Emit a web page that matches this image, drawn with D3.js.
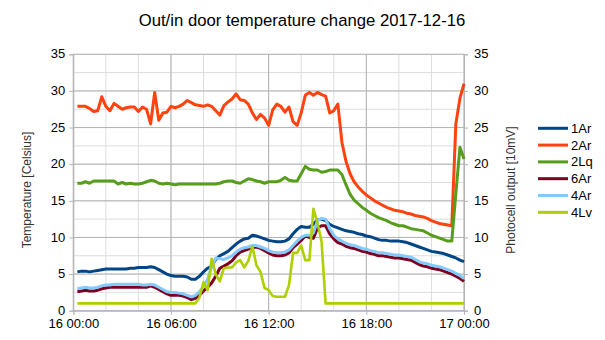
<!DOCTYPE html>
<html>
<head>
<meta charset="utf-8">
<script src="https://cdn.jsdelivr.net/npm/d3@7"></script>
<style>
  html, body { margin: 0; padding: 0; background: #fff; }
  svg { display: block; font-family: "Liberation Sans", Arial, sans-serif; }
</style>
</head>
<body>
<svg id="chart" width="605" height="340"></svg>
<script>
// Samples every 15 minutes, first one at 00:15 on 2017-12-16
const sampleStart = "2017-12-16T00:15:00";
const sampleStepMinutes = 15;

const seriesNames = ["1Ar", "2Ar", "2Lq", "6Ar", "4Ar", "4Lv"];
const seriesColors = ["#004586", "#ff420e", "#579d1c", "#7e0021", "#83caff", "#aecf00"];

const s1Ar = [
  5.3, 5.4, 5.4, 5.3, 5.4, 5.5, 5.6, 5.7, 5.7, 5.7, 5.7, 5.7, 5.7, 5.8, 5.8, 5.9,
  5.9, 5.9, 6.0, 5.9, 5.6, 5.3, 5.0, 4.8, 4.7, 4.7, 4.7, 4.6, 4.3, 4.3, 4.7, 5.3,
  5.8, 6.1, 7.0, 7.5, 7.8, 8.1, 8.6, 9.1, 9.5, 9.8, 9.9, 10.3, 10.2, 10.0, 9.8, 9.6,
  9.5, 9.4, 9.4, 9.5, 9.8, 10.5, 11.1, 11.5, 11.4, 11.4, 11.8, 12.4, 12.5, 12.3, 11.8, 11.5,
  11.3, 11.1, 10.9, 10.8, 10.7, 10.5, 10.4, 10.2, 10.1, 9.9, 9.7, 9.6, 9.6, 9.5, 9.5, 9.5,
  9.4, 9.3, 9.1, 8.9, 8.7, 8.5, 8.3, 8.1, 8.0, 7.9, 7.8, 7.6, 7.4, 7.2, 6.9, 6.7
];
const s2Ar = [
  27.9, 27.9, 27.9, 27.6, 27.2, 27.3, 29.2, 27.9, 27.3, 28.3, 27.9, 27.5, 27.7, 27.8, 27.8, 27.2,
  27.8, 27.5, 25.5, 29.8, 26.0, 27.0, 27.1, 27.9, 27.7, 27.9, 28.2, 28.7, 28.4, 28.1, 28.0, 27.9,
  28.1, 27.9, 27.3, 26.7, 28.0, 28.5, 28.9, 29.6, 28.8, 28.7, 28.2, 27.0, 26.1, 26.8, 26.3, 25.3,
  27.4, 28.2, 27.9, 27.1, 27.8, 25.8, 25.3, 27.0, 29.4, 29.8, 29.4, 29.8, 29.5, 29.3, 27.0, 27.3,
  28.2, 23.0, 20.4, 18.7, 17.6, 16.9, 16.3, 15.8, 15.4, 15.0, 14.7, 14.4, 14.1, 13.9, 13.7, 13.6,
  13.5, 13.3, 13.2, 13.0, 12.9, 12.8, 12.6, 12.3, 12.1, 11.9, 11.8, 11.7, 11.6, 25.5, 29.0, 31.0
];
const s2Lq = [
  17.4, 17.4, 17.6, 17.4, 17.7, 17.7, 17.7, 17.7, 17.7, 17.7, 17.3, 17.5, 17.3, 17.4, 17.3, 17.3,
  17.4, 17.6, 17.8, 17.7, 17.4, 17.3, 17.4, 17.3, 17.2, 17.3, 17.3, 17.3, 17.3, 17.3, 17.3, 17.3,
  17.3, 17.3, 17.3, 17.4, 17.6, 17.7, 17.7, 17.5, 17.4, 17.7, 18.0, 17.9, 17.7, 17.6, 17.4, 17.6,
  17.6, 17.6, 17.8, 18.2, 17.8, 17.7, 17.7, 18.7, 19.7, 19.3, 19.2, 19.2, 18.9, 19.0, 19.2, 19.2,
  19.2, 18.6, 17.2, 15.9, 15.1, 14.6, 14.1, 13.7, 13.3, 13.0, 12.7, 12.5, 12.3, 12.0, 11.8, 11.6,
  11.6, 11.4, 11.2, 11.1, 11.0, 10.9, 10.6, 10.3, 10.1, 9.9, 9.7, 9.5, 9.5, 16.0, 22.3, 20.7
];
const s6Ar = [
  2.6, 2.7, 2.8, 2.7, 2.7, 2.8, 3.0, 3.1, 3.2, 3.2, 3.2, 3.2, 3.2, 3.2, 3.2, 3.2,
  3.2, 3.2, 3.4, 3.2, 2.9, 2.6, 2.3, 2.1, 2.1, 2.1, 2.0, 1.8, 1.5, 1.7, 2.1, 2.7,
  3.2, 3.8, 4.7, 5.8, 6.1, 6.4, 6.8, 7.5, 8.0, 8.2, 8.4, 8.6, 8.7, 8.5, 8.2, 7.9,
  7.6, 7.5, 7.5, 7.6, 7.9, 8.6, 9.1, 9.6, 10.2, 10.0, 9.9, 11.3, 11.6, 11.6, 10.5, 9.8,
  9.3, 9.1, 8.8, 8.6, 8.5, 8.3, 8.1, 8.0, 7.8, 7.7, 7.5, 7.5, 7.4, 7.3, 7.2, 7.2,
  7.1, 7.0, 6.9, 6.6, 6.3, 6.1, 6.0, 5.8, 5.7, 5.6, 5.4, 5.2, 5.0, 4.7, 4.4, 4.0
];
const s4Ar = [
  3.0, 3.1, 3.2, 3.1, 3.1, 3.2, 3.4, 3.5, 3.5, 3.6, 3.6, 3.6, 3.6, 3.6, 3.6, 3.6,
  3.5, 3.5, 3.6, 3.5, 3.2, 2.9, 2.6, 2.5, 2.5, 2.4, 2.3, 2.1, 1.9, 2.1, 2.6, 3.3,
  4.3, 6.0, 7.2, 7.1, 7.0, 7.2, 7.5, 8.0, 8.4, 8.6, 8.7, 8.9, 8.9, 8.7, 8.5, 8.2,
  8.0, 7.9, 7.9, 8.0, 8.3, 8.9, 9.5, 10.0, 10.3, 10.3, 10.6, 12.3, 12.6, 12.5, 11.2, 10.3,
  9.8, 9.5, 9.2, 9.0, 8.9, 8.7, 8.5, 8.4, 8.2, 8.1, 7.9, 7.9, 7.8, 7.7, 7.6, 7.6,
  7.5, 7.4, 7.3, 7.0, 6.7, 6.5, 6.4, 6.2, 6.1, 6.0, 5.8, 5.6, 5.4, 5.1, 4.8, 4.4
];
const s4Lv = [
  1.0, 1.0, 1.0, 1.0, 1.0, 1.0, 1.0, 1.0, 1.0, 1.0, 1.0, 1.0, 1.0, 1.0, 1.0, 1.0,
  1.0, 1.0, 1.0, 1.0, 1.0, 1.0, 1.0, 1.0, 1.0, 1.0, 1.0, 1.0, 1.0, 1.0, 1.8, 3.9,
  2.8, 7.1, 5.0, 4.0, 5.8, 5.9, 5.9, 6.6, 6.9, 5.9, 6.8, 8.8, 6.2, 5.3, 3.1, 2.8,
  2.0, 1.9, 1.9, 1.9, 3.5, 7.9, 7.9, 8.9, 6.9, 6.9, 13.9, 12.0, 9.4, 1.0, 1.0, 1.0,
  1.0, 1.0, 1.0, 1.0, 1.0, 1.0, 1.0, 1.0, 1.0, 1.0, 1.0, 1.0, 1.0, 1.0, 1.0, 1.0,
  1.0, 1.0, 1.0, 1.0, 1.0, 1.0, 1.0, 1.0, 1.0, 1.0, 1.0, 1.0, 1.0, 1.0, 1.0, 1.0
];
const seriesValues = [s1Ar, s2Ar, s2Lq, s6Ar, s4Ar, s4Lv];

const yTicks = [0, 5, 10, 15, 20, 25, 30, 35];
const titleText = "Out/in door temperature change 2017-12-16";
const leftTitle = "Temperature [Celsius]";
const rightTitle = "Photocell output [10mV]";

// ---- layout ----
const plot = { left: 73.3, right: 464, top: 54.3, bottom: 310.7 };

const svg = d3.select("#chart");
const parse = d3.utcParse("%Y-%m-%dT%H:%M:%S");
const t0 = parse(sampleStart);
const times = s1Ar.map((_, i) => d3.utcMinute.offset(t0, i * sampleStepMinutes));

const x = d3.scaleUtc()
  .domain([parse("2017-12-16T00:00:00"), parse("2017-12-17T00:00:00")])
  .range([plot.left, plot.right]);
const y = d3.scaleLinear().domain([0, 35]).range([plot.bottom, plot.top]);
const yRight = d3.scaleLinear().domain([0, 35]).range([plot.bottom, plot.top]);

// gridlines: light every 2 h / 2.5 units, darker every 6 h / 5 units
const g = svg.append("g");
const minorX = x.ticks(d3.utcHour.every(2));
const majorX = x.ticks(d3.utcHour.every(6));
const minorY = d3.range(0, 35.01, 2.5);

g.selectAll("line.mx").data(minorX).join("line")
  .attr("x1", d => x(d)).attr("x2", d => x(d))
  .attr("y1", plot.top).attr("y2", plot.bottom)
  .attr("stroke", "#dddddd").attr("stroke-width", 1);
g.selectAll("line.my").data(minorY).join("line")
  .attr("x1", plot.left).attr("x2", plot.right)
  .attr("y1", d => y(d)).attr("y2", d => y(d))
  .attr("stroke", "#dddddd").attr("stroke-width", 1);
g.selectAll("line.Mx").data(majorX).join("line")
  .attr("x1", d => x(d)).attr("x2", d => x(d))
  .attr("y1", plot.top).attr("y2", plot.bottom)
  .attr("stroke", "#b3b3b3").attr("stroke-width", 1);
g.selectAll("line.My").data(yTicks).join("line")
  .attr("x1", plot.left).attr("x2", plot.right)
  .attr("y1", d => y(d)).attr("y2", d => y(d))
  .attr("stroke", "#b3b3b3").attr("stroke-width", 1);

// axes
const fmt = d3.utcFormat("%d %H:%M");
const axisStyle = sel => {
  sel.selectAll(".domain").attr("stroke", "#b3b3b3");
  sel.selectAll(".tick line").attr("stroke", "#b3b3b3");
  sel.selectAll("text").attr("fill", "#000").attr("font-size", "13px")
    .attr("font-family", "Liberation Sans, Arial, sans-serif");
};
svg.append("g")
  .attr("transform", `translate(0,${plot.bottom})`)
  .call(d3.axisBottom(x).tickValues(majorX).tickFormat(fmt).tickSize(4).tickPadding(4))
  .call(axisStyle);
svg.append("g")
  .attr("transform", `translate(${plot.left},0)`)
  .call(d3.axisLeft(y).tickValues(yTicks).tickSize(4).tickPadding(4))
  .call(axisStyle)
  .selectAll(".tick text").attr("dy", "0.28em");
svg.append("g")
  .attr("transform", `translate(${plot.right},0)`)
  .call(d3.axisRight(yRight).tickValues(yTicks).tickSize(4).tickPadding(6))
  .call(axisStyle)
  .selectAll(".tick text").attr("dy", "0.28em");

// series lines
const line = d3.line().x((d, i) => x(times[i])).y(d => y(d));
seriesValues.forEach((vals, k) => {
  svg.append("path")
    .datum(vals)
    .attr("fill", "none")
    .attr("stroke", seriesColors[k])
    .attr("stroke-width", seriesNames[k] === "4Lv" ? 2.6 : 3)
    .attr("stroke-linejoin", "round")
    .attr("stroke-linecap", "butt")
    .attr("d", line);
});

// title
svg.append("text")
  .attr("x", 302).attr("y", 26)
  .attr("text-anchor", "middle")
  .attr("font-size", "16.7px")
  .attr("fill", "#000")
  .text(titleText);

// axis titles
svg.append("text")
  .attr("transform", "translate(31,190) rotate(-90)")
  .attr("text-anchor", "middle")
  .attr("font-size", "12px")
  .attr("fill", "#333")
  .text(leftTitle);
svg.append("text")
  .attr("transform", "translate(515,190) rotate(-90)")
  .attr("text-anchor", "middle")
  .attr("font-size", "12px")
  .attr("fill", "#333")
  .text(rightTitle);

// legend
const legend = svg.append("g");
seriesNames.forEach((name, k) => {
  const ly = 128.3 + k * 16.8;
  legend.append("line")
    .attr("x1", 538).attr("x2", 568).attr("y1", ly).attr("y2", ly)
    .attr("stroke", seriesColors[k]).attr("stroke-width", 3);
  legend.append("text")
    .attr("x", 571).attr("y", ly).attr("dy", "0.35em")
    .attr("font-size", "13px").attr("fill", "#000")
    .text(name);
});
</script>
</body>
</html>
